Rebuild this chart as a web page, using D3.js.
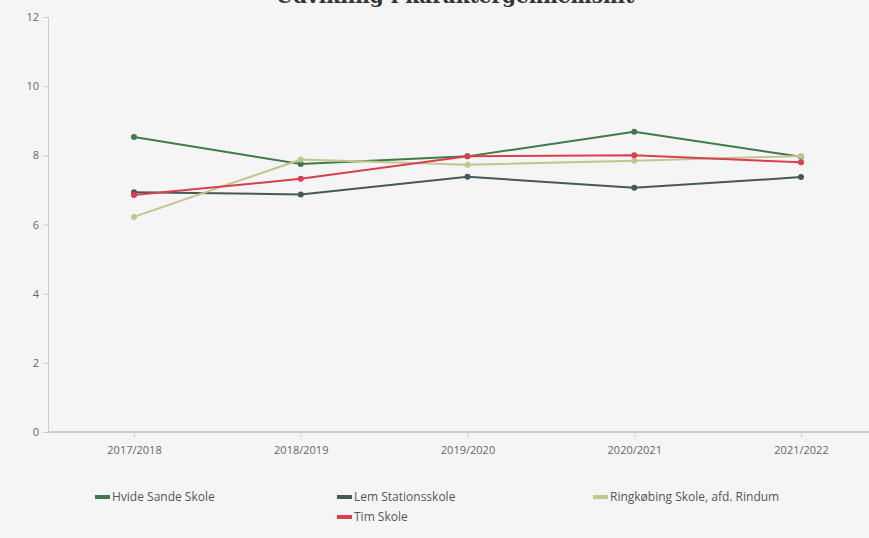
<!DOCTYPE html>
<html>
<head>
<meta charset="utf-8">
<script src="https://cdn.jsdelivr.net/npm/d3@7"></script>
<style>
  body { margin: 0; background: #f5f5f5; }
  svg { display: block; }
  .tick text { font-family: "Open Sans", sans-serif; font-size: 11px; fill: #666; }
  .legend text { font-family: "Open Sans", sans-serif; font-size: 12px; fill: #555; }
</style>
</head>
<body>
<svg id="chart" width="869" height="538"></svg>
<script>
// data
var years = ["2017/2018", "2018/2019", "2019/2020", "2020/2021", "2021/2022"];
var schools = ["Hvide Sande Skole", "Lem Stationsskole", "Ringkøbing Skole, afd. Rindum", "Tim Skole"];
var hvideSande = [8.53, 7.75, 7.97, 8.68, 7.96];
var lemStation = [6.93, 6.87, 7.38, 7.06, 7.37];
var ringkobing = [6.22, 7.88, 7.73, 7.84, 7.98];
var timSkole   = [6.85, 7.32, 7.97, 8.00, 7.80];
var yTicks = [0, 2, 4, 6, 8, 10, 12];

var seriesValues = [hvideSande, lemStation, ringkobing, timSkole];
var colors = ["#3f7a4a", "#46585c", "#c2c68e", "#d8404f"];

var svg = d3.select("#chart");
var W = 869, H = 538;

svg.append("rect").attr("width", W).attr("height", H).attr("fill", "#f5f5f5");

// title (cut off at top in reference)
svg.append("text")
    .attr("x", 455).attr("y", 3)
    .attr("text-anchor", "middle")
    .style("font-family", "'DejaVu Serif', serif")
    .style("font-weight", "bold")
    .style("font-size", "20px")
    .style("fill", "#333")
    .text("Udvikling i karaktergennemsnit");

var x = d3.scalePoint().domain(years).range([134, 801]);
var y = d3.scaleLinear().domain([0, 12]).range([432, 17]);

// y axis
var yAxis = svg.append("g")
    .attr("transform", "translate(48,0)")
    .call(d3.axisLeft(y).tickValues(yTicks).tickSize(5).tickPadding(4));
yAxis.select(".domain").attr("stroke", "#ccc");
yAxis.selectAll(".tick line").attr("stroke", "#ccc");

// x axis
var xAxis = svg.append("g")
    .attr("transform", "translate(0,432)");
xAxis.append("line")
    .attr("x1", 48).attr("x2", W)
    .attr("stroke", "#ccc").attr("stroke-width", 2);
xAxis.call(d3.axisBottom(x).tickSize(5).tickPadding(9));
xAxis.select(".domain").remove();
xAxis.selectAll(".tick line").attr("stroke", "#ccc");

// lines
var line = d3.line()
    .x(function(d, i) { return x(years[i]); })
    .y(function(d) { return y(d); });

seriesValues.forEach(function(vals, s) {
    var g = svg.append("g").attr("class", "series");
    g.append("path")
        .datum(vals)
        .attr("fill", "none")
        .attr("stroke", colors[s])
        .attr("stroke-width", 2)
        .attr("d", line);
    g.selectAll("circle")
        .data(vals).enter()
        .append("circle")
        .attr("cx", function(d, i) { return x(years[i]); })
        .attr("cy", function(d) { return y(d); })
        .attr("r", 3)
        .attr("fill", colors[s]);
});

// legend
var legendPos = [[95, 497], [337, 497], [593, 497], [337, 517]];
var legend = svg.append("g").attr("class", "legend");
schools.forEach(function(name, i) {
    var item = legend.append("g")
        .attr("transform", "translate(" + legendPos[i][0] + "," + legendPos[i][1] + ")");
    item.append("rect")
        .attr("x", 0).attr("y", -2)
        .attr("width", 15).attr("height", 4)
        .attr("fill", colors[i]);
    item.append("text")
        .attr("x", 17).attr("y", 4)
        .text(name);
});
</script>
</body>
</html>
